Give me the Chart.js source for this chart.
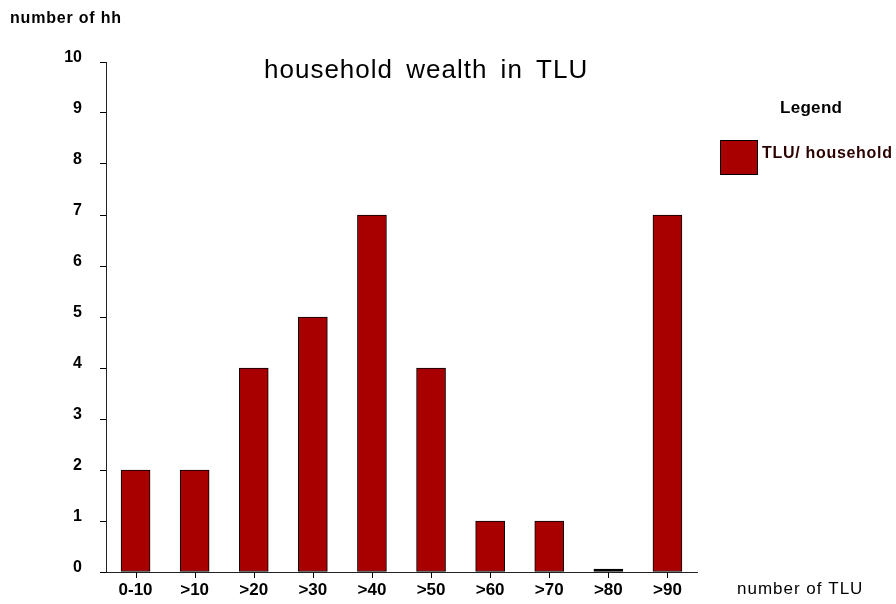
<!DOCTYPE html>
<html>
<head>
<meta charset="utf-8">
<script src="https://cdn.jsdelivr.net/npm/chart.js@4/dist/chart.umd.min.js"></script>
<style>
html,body{margin:0;padding:0;background:#fff;}
#wrap{width:896px;height:604px;position:relative;}
</style>
</head>
<body>
<div id="wrap"><canvas id="c" width="896" height="604"></canvas></div>
<script>
const categories = ['0-10','>10','>20','>30','>40','>50','>60','>70','>80','>90'];
const households = [2,2,4,5,7,4,1,1,0,7];
const seriesLabel = 'TLU/ household';
const chartTitle = 'household wealth in TLU';
const yTitle = 'number of hh';
const xTitle = 'number of TLU';
const legendTitle = 'Legend';
const yTicks = [0,1,2,3,4,5,6,7,8,9,10];

const FONT = '"Liberation Sans", Arial, sans-serif';
const BAR = '#a80000';

const textPlugin = {
  id: 'texts',
  afterDraw(chart) {
    const ctx = chart.ctx;
    const ds = chart.data.datasets[0];
    const xs = chart.scales.x;
    ctx.save();
    // x tick marks at category centres
    ctx.strokeStyle = '#000';
    ctx.lineWidth = 1;
    ctx.beginPath();
    xs.ticks.forEach((t, i) => {
      const px = Math.round(xs.getPixelForTick(i)) + 0.5;
      ctx.moveTo(px, xs.top);
      ctx.lineTo(px, xs.top + 6);
    });
    ctx.stroke();

    ctx.fillStyle = '#000';
    ctx.textBaseline = 'alphabetic';
    ctx.font = '26px ' + FONT;
    ctx.textAlign = 'left';
    ctx.letterSpacing = '1px';
    ctx.wordSpacing = '5px';
    ctx.fillText(chartTitle, 264, 78);
    ctx.wordSpacing = '0px';
    ctx.font = 'bold 16px ' + FONT;
    ctx.letterSpacing = '0.8px';
    ctx.fillText(yTitle, 10, 23);
    ctx.font = '17px ' + FONT;
    ctx.letterSpacing = '1px';
    ctx.fillText(xTitle, 737, 594);
    ctx.font = 'bold 17px ' + FONT;
    ctx.letterSpacing = '0.3px';
    ctx.fillText(legendTitle, 780, 113);
    ctx.fillStyle = BAR;
    ctx.fillRect(720, 140, 38, 35);
    ctx.strokeRect(720.5, 140.5, 37, 34);
    ctx.fillStyle = '#2a0000';
    ctx.font = 'bold 16px ' + FONT;
    ctx.letterSpacing = '0.7px';
    ctx.fillText(ds.label, 762, 158);
    ctx.restore();
  }
};

new Chart(document.getElementById('c'), {
  type: 'bar',
  data: {
    labels: categories,
    datasets: [{
      label: seriesLabel,
      data: households,
      backgroundColor: (c) => (c.raw === 0 ? '#000' : BAR),
      borderColor: '#000',
      borderWidth: 1,
      borderSkipped: false,
      minBarLength: 3,
      barThickness: 29
    }]
  },
  options: {
    responsive: false,
    animation: false,
    devicePixelRatio: 1,
    layout: { padding: { top: 62, right: 199, left: 0, bottom: 0 } },
    plugins: { legend: { display: false }, title: { display: false }, tooltip: { enabled: false } },
    scales: {
      x: {
        grid: { display: false },
        border: { display: true, color: '#222', width: 1 },
        ticks: { color: '#000', font: { family: FONT, size: 17, weight: 'bold' }, padding: 0, maxRotation: 0 },
        afterFit(s) { s.height = 32; }
      },
      y: {
        min: 0, max: 10,
        afterBuildTicks(s) { s.ticks = yTicks.map(v => ({ value: v })); },
        grid: { drawOnChartArea: false, drawTicks: true, tickLength: 6, color: '#000' },
        border: { display: true, color: '#222', width: 1 },
        ticks: { color: '#000', font: { family: FONT, size: 16, weight: 'bold' }, padding: 18, labelOffset: -4 },
        afterFit(s) { s.width = 106; }
      }
    }
  },
  plugins: [textPlugin]
});
</script>
</body>
</html>
